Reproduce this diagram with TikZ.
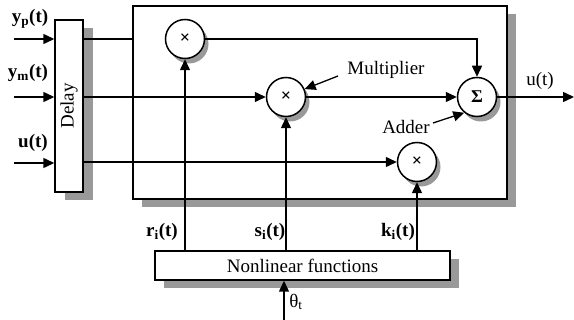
\documentclass[tikz,border=0pt]{standalone}
\usepackage{fontspec}
\setmainfont{Liberation Serif}
\usetikzlibrary{arrows.meta,shadows}
\begin{document}
\begin{tikzpicture}[x=1pt,y=-1pt, line width=1.5pt,
  every node/.style={font=\fontsize{19}{21}\selectfont},
  arr/.style={-{Triangle[length=11pt,width=10pt]}},
  blk/.style={draw, fill=white, inner sep=0pt},
  bsh/.style={drop shadow={shadow xshift=#1pt, shadow yshift=-8pt, opacity=1, fill=black!40}},
  op/.style={circle, draw, fill=white, minimum size=39pt, inner sep=0pt, font=\fontsize{18}{20}\selectfont\bfseries,
    drop shadow={shadow xshift=4pt, shadow yshift=-5pt, opacity=1, fill=black!40}},
  lab/.style={inner sep=0pt},
  blab/.style={inner sep=0pt, font=\fontsize{19}{21}\selectfont\bfseries}]
\useasboundingbox (0,0) rectangle (574,320);
% blocks
\node[blk, bsh=9, minimum width=374pt, minimum height=193pt] (main) at (320,102.5) {};
\node[blk, bsh=10, minimum width=28pt, minimum height=172pt] (delay) at (69,106) {};
\node[rotate=90] at (delay.center) {Delay};
\node[blk, bsh=9, minimum width=295pt, minimum height=29pt] (nl) at (302.5,265.5) {Nonlinear functions};
% operators
\node[op] (m1) at (185,39) {×};
\node[op] (m2) at (286,97) {×};
\node[op] (sum) at (477,97) {Σ};
\node[op] (m3) at (417,162) {×};
% inputs
\coordinate (in1) at (14,39);
\coordinate (in2) at (14,97);
\coordinate (in3) at (14,163);
\draw[arr] (in1) -- (delay.west |- in1);
\draw[arr] (in2) -- (delay.west |- in2);
\draw[arr] (in3) -- (delay.west |- in3);
\node[blab] at (30,19) {y\textsubscript{p}(t)};
\node[blab] at (28,73) {y\textsubscript{m}(t)};
\node[blab] at (33,143) {u(t)};
% delay outputs
\draw (delay.east |- in1) -- (main.west |- in1);
\draw[arr] (delay.east |- m2) -- (m2.west);
\draw[arr] (delay.east |- m3) -- (m3.west);
% internal
\draw[arr] (m1.east) -- (sum.north |- m1.east) -- (sum.north);
\draw[arr] (m2.east) -- (sum.west);
\coordinate (out) at (574,97);
\draw[arr] (sum.east) -- (out);
\node[lab] at (540,81) {u(t)};
% nonlinear outputs
\draw[arr] (nl.north -| m1) -- (m1.south);
\draw[arr] (nl.north -| m2) -- (m2.south);
\draw[arr] (nl.north -| m3) -- (m3.south);
\node[blab] at (162,232) {r\textsubscript{i}(t)};
\node[blab] at (270,232) {s\textsubscript{i}(t)};
\node[blab] at (398,232) {k\textsubscript{i}(t)};
% theta
\coordinate (th) at (284,320);
\draw[arr] (th) -- (nl.south -| th);
\node[lab] at (296,302) {θ\textsubscript{t}};
% annotations
\node[lab] (mlab) at (386,70) {Multiplier};
\coordinate (ms) at (338,76);
\draw[arr, line width=1.3pt] (ms) -- (m2.23);
\node[lab] (alab) at (406,127) {Adder};
\coordinate (as) at (433,123);
\draw[arr, line width=1.3pt] (as) -- (sum.231);
\end{tikzpicture}
\end{document}
